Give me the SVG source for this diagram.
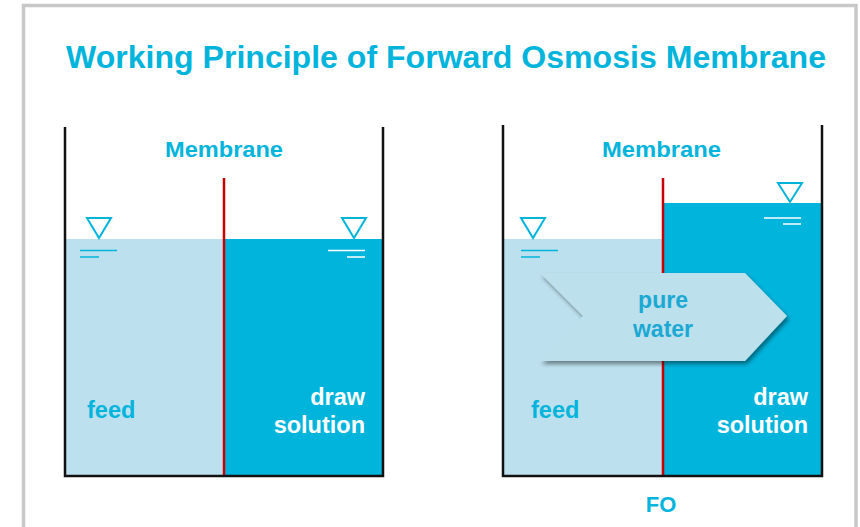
<svg xmlns="http://www.w3.org/2000/svg" width="860" height="527" viewBox="0 0 860 527">
<defs>
<style>
.t{font-family:"Liberation Sans",Arial,sans-serif;font-weight:bold;fill:#00b4dc}
.w{font-family:"Liberation Sans",Arial,sans-serif;font-weight:bold;fill:#ffffff}
.wall{fill:none;stroke:#111;stroke-width:2.5}
.mem{stroke:#c80000;stroke-width:2.5}
.light{fill:#bce0ee}
.dark{fill:#00b4dc}
.tri{fill:none;stroke:#00b4dc;stroke-width:2}
.lvl{stroke:#00b4dc;stroke-width:1.5}
.lvlw{stroke:#ffffff;stroke-width:1.5}
.pw{font-family:"Liberation Sans",Arial,sans-serif;font-weight:bold;fill:#1ba9d3}
</style>
<filter id="sh" x="-10%" y="-10%" width="130%" height="130%">
<feGaussianBlur in="SourceAlpha" stdDeviation="2"/>
<feOffset dx="2" dy="3"/>
<feComponentTransfer><feFuncA type="linear" slope="0.45"/></feComponentTransfer>
<feMerge><feMergeNode/><feMergeNode in="SourceGraphic"/></feMerge>
</filter>
</defs>
<rect x="0" y="0" width="860" height="527" fill="#ffffff"/>
<rect x="23.5" y="5.5" width="832.5" height="540" fill="none" stroke="#c8c8c8" stroke-width="3.5"/>
<text class="t" x="446" y="68" font-size="32" text-anchor="middle" textLength="760" lengthAdjust="spacingAndGlyphs">Working Principle of Forward Osmosis Membrane</text>

<g id="tank-left">
<rect class="light" x="65" y="239" width="159" height="237"/>
<rect class="dark" x="224" y="239" width="159" height="237"/>
<line class="mem" x1="224" y1="178" x2="224" y2="476"/>
<polyline class="wall" points="65,127 65,476 383,476 383,127"/>
<text class="t" x="224" y="157" font-size="22" text-anchor="middle" textLength="118" lengthAdjust="spacingAndGlyphs">Membrane</text>
<polygon class="tri" points="87,218 111,218 99,238"/>
<line class="lvl" x1="80" y1="250.5" x2="117" y2="250.5"/>
<line class="lvl" x1="80" y1="257" x2="99" y2="257"/>
<polygon class="tri" points="342,218 366,218 354,238"/>
<line class="lvlw" x1="328" y1="250.5" x2="365" y2="250.5"/>
<line class="lvlw" x1="347" y1="257" x2="365" y2="257"/>
<text class="t" x="87" y="418" font-size="23.5">feed</text>
<text class="w" x="365" y="405" font-size="23.5" text-anchor="end">draw</text>
<text class="w" x="365" y="433" font-size="23.5" text-anchor="end">solution</text>
</g>

<g id="tank-right">
<rect class="light" x="503" y="239" width="160" height="237"/>
<rect class="dark" x="663" y="203" width="159" height="273"/>
<line class="mem" x1="663" y1="178" x2="663" y2="476"/>
<polyline class="wall" points="503,125 503,476 822,476 822,125"/>
<text class="t" x="661.5" y="157" font-size="22" text-anchor="middle" textLength="119" lengthAdjust="spacingAndGlyphs">Membrane</text>
<polygon class="tri" points="521,218 545,218 533,238"/>
<line class="lvl" x1="521" y1="250.5" x2="558" y2="250.5"/>
<line class="lvl" x1="521" y1="257" x2="540" y2="257"/>
<polygon class="tri" points="778,183 802,183 790,202"/>
<line class="lvlw" x1="764" y1="218" x2="801" y2="218"/>
<line class="lvlw" x1="783" y1="224" x2="801" y2="224"/>
<text class="t" x="531" y="418" font-size="23.5">feed</text>
<text class="w" x="808" y="405" font-size="23.5" text-anchor="end">draw</text>
<text class="w" x="808" y="433" font-size="23.5" text-anchor="end">solution</text>
<text class="t" x="661" y="512" font-size="22" text-anchor="middle">FO</text>
</g>

<g id="arrow-pure-water">
<polygon points="540,273 745,273 787,316 745,361 540,361 583,316" fill="#bce0ec" filter="url(#sh)"/>
<text class="pw" x="663" y="308" font-size="23" text-anchor="middle">pure</text>
<text class="pw" x="663" y="337" font-size="23" text-anchor="middle">water</text>
</g>
</svg>
